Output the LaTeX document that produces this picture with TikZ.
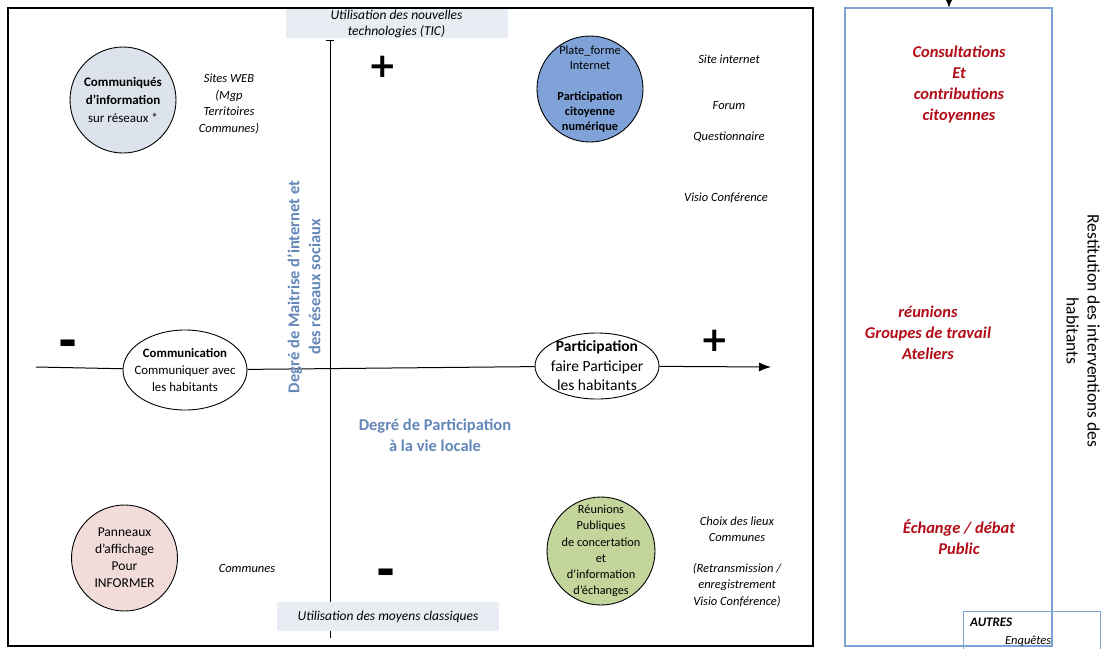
\documentclass[tikz,border=0pt]{standalone}
\usepackage{fontspec}
\setmainfont{Carlito}
\newfontfamily\signfont{DejaVu Sans}
\usetikzlibrary{shapes.geometric,arrows.meta}

\definecolor{infogray}{RGB}{221,227,236}
\definecolor{webblue}{RGB}{127,162,216}
\definecolor{panelpink}{RGB}{241,220,218}
\definecolor{meetgreen}{RGB}{195,213,155}
\definecolor{axisbox}{RGB}{232,237,243}
\definecolor{axisblue}{RGB}{100,135,185}
\definecolor{citred}{RGB}{178,12,24}
\definecolor{frameblue}{RGB}{125,162,212}

\begin{document}
\begin{tikzpicture}[x=1pt, y=-1pt, every node/.style={inner sep=0pt, align=center},
bubble/.style={circle, draw, line width=0.9pt, minimum size=106pt},
oval/.style={ellipse, draw, line width=0.9pt, minimum width=124pt},
note/.style={font=\fontsize{12.5}{16.5}\selectfont\itshape},
axislabel/.style={fill=axisbox, minimum width=222pt, minimum height=29pt, font=\fontsize{13.5}{16}\selectfont\itshape},
degree/.style={text=axisblue, font=\fontsize{16.5}{21}\selectfont\bfseries},
citizen/.style={text=citred, font=\fontsize{16.5}{21}\selectfont\bfseries\itshape},
sign/.style={font=\signfont\bfseries\fontsize{34}{34}\selectfont},
minus/.style={font=\signfont\bfseries\fontsize{46}{46}\selectfont}]
\useasboundingbox (0,0) rectangle (1102,648);

% quadrant
\draw[line width=1.3pt] (8,8) rectangle (813,646);

\coordinate (vtop) at (330,40);
\coordinate (vbot) at (330,638);
\draw[line width=1pt, {Bar[width=8pt]}-] (vtop) -- (vbot);
\node[axislabel] (tic) at (396.5,23.5) {Utilisation des nouvelles\\technologies (TIC)};
\node[axislabel] (classique) at (388,616.5) {Utilisation des moyens classiques};

\node[oval, minimum height=80pt,
    label={[font=\fontsize{12.8}{17}\selectfont]center:{\textbf{Communication}\\Communiquer avec\\les habitants}}]
    (comm) at (185,370) {};
\node[oval, minimum height=66pt,
    label={[font=\fontsize{15.5}{19.5}\selectfont]center:{\textbf{Participation}\\faire Participer\\les habitants}}]
    (part) at (597,366) {};

\coordinate (hstart) at (36,367);
\coordinate (hend) at (771,367);
\draw[line width=1pt] (hstart) -- (comm);
\draw[line width=1pt] (comm) -- (part);
\draw[line width=1pt, -{Latex[length=12pt, width=9pt]}] (part) -- (hend);

\node[sign] (plushaut) at (383,67) {+};
\node[sign] (plusdroite) at (715,341) {+};
\node[minus] (moinsgauche) at (68,348) {-};
\node[minus] (moinsbas) at (386,577) {-};

\node[degree, rotate=90] (maitrise) at (304,287) {Degré de Maitrise d’internet et\\des réseaux sociaux};
\node[degree] (vielocale) at (435,435) {Degré de Participation\\à la vie locale};

% the four tools
\node[bubble, fill=infogray,
    label={[font=\fontsize{13}{18}\selectfont]center:{\textbf{Communiqués}\\\textbf{d’information}\\sur réseaux *}}]
    (reseaux) at (123,100) {};
\node[bubble, fill=webblue,
    label={[font=\fontsize{12.3}{15}\selectfont]center:{Plate\_forme\\Internet\\[16pt]\textbf{Participation}\\\textbf{citoyenne}\\\textbf{numérique}}}]
    (numerique) at (590,89) {};
\node[bubble, fill=panelpink,
    label={[font=\fontsize{13.5}{17}\selectfont]center:{Panneaux\\d’affichage\\Pour\\INFORMER}}]
    (affichage) at (124.5,558) {};
\node[bubble, fill=meetgreen, minimum size=108pt,
    label={[font=\fontsize{12.3}{16.3}\selectfont]center:{Réunions\\Publiques\\de concertation\\et\\d’information\\d’échanges}}]
    (reunions) at (601,551) {};

\node[note] (web) at (229,104) {Sites WEB\\(Mgp\\Territoires\\Communes)};
\node[note] (site) at (729,59) {Site internet};
\node[note] (forum) at (729,106) {Forum};
\node[note] (quest) at (729,137) {Questionnaire};
\node[note] (visio) at (726,198) {Visio Conférence};
\node[note] (communes) at (247,568) {Communes};
\node[note] (lieux) at (737,529) {Choix des lieux\\Communes};
\node[note] (retrans) at (737,585) {(Retransmission /\\enregistrement\\Visio Conférence)};

% restitution column
\node[draw=frameblue, line width=1.1pt, minimum width=207pt, minimum height=638pt] (restbox) at (948.5,327) {};
\coordinate (resin) at (949,-4);
\draw[line width=1pt, -{Latex[length=10pt, width=9pt]}] (resin) -- (restbox.north -| resin);

\node[citizen] (consult) at (959,84.5) {Consultations\\Et\\contributions\\citoyennes};
\node[citizen] (groupes) at (928,333) {réunions\\Groupes de travail\\Ateliers};
\node[citizen] (debat) at (959,537.5) {Échange / débat\\Public};

\node[draw=frameblue, line width=1.1pt, minimum width=137pt, minimum height=44pt, anchor=north west] (autres) at (963,611) {};
\node[font=\fontsize{13}{16}\selectfont\bfseries\itshape, anchor=west] (autrestitre) at (970,622) {AUTRES};
\node[note, anchor=west] (enquetes) at (1005,641) {Enquêtes};

\node[font=\fontsize{17.5}{21}\selectfont, rotate=-90] (restitution) at (1083,331) {Restitution des interventions des\\habitants};
\end{tikzpicture}
\end{document}
